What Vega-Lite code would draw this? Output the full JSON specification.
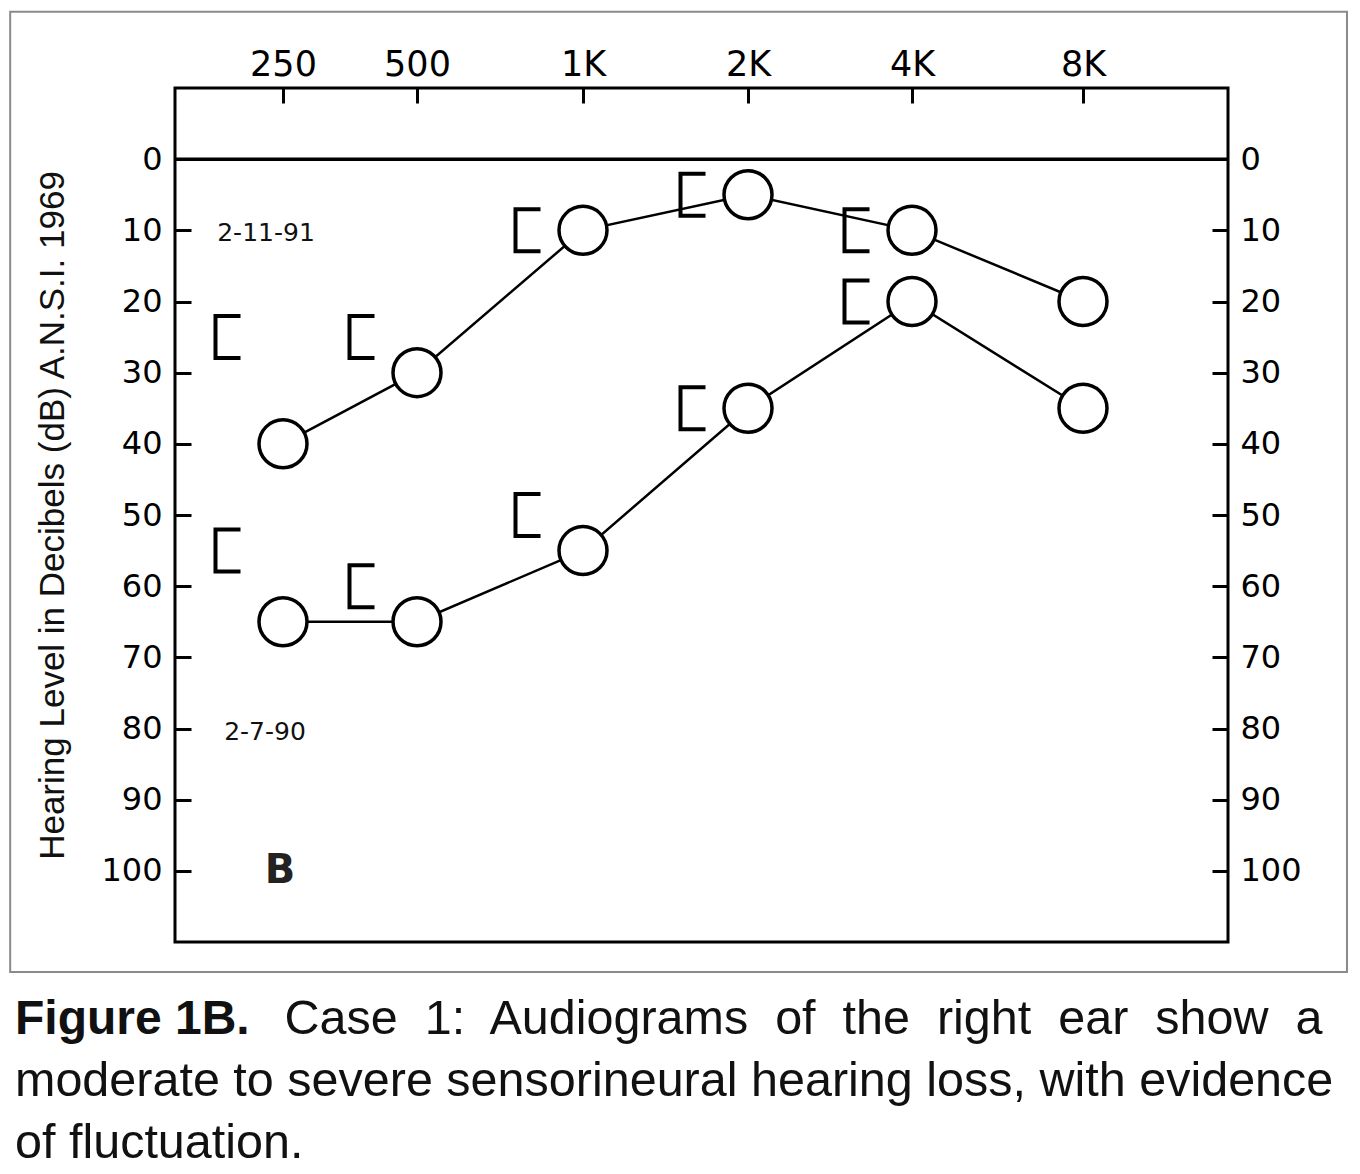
{
  "$schema": "https://vega.github.io/schema/vega-lite/v6.json",
  "autosize": "none",
  "padding": {"left": 175, "top": 88, "right": 132, "bottom": 232},
  "width": 1053,
  "height": 854,
  "background": "white",
  "title": {
    "text": "Figure 1B.",
    "subtitle": [
      "\u200b\u00a0\u00a0\u00a0\u00a0\u00a0\u00a0\u00a0\u00a0\u00a0\u00a0\u00a0\u00a0\u00a0\u00a0\u00a0\u00a0\u00a0\u00a0\u00a0\u00a0Case\u00a0 1:\u00a0 Audiograms\u00a0 of\u00a0 the\u00a0 right\u00a0 ear\u00a0 show\u00a0 a",
      "moderate to severe sensorineural hearing loss, with evidence",
      "of fluctuation."
    ],
    "orient": "bottom",
    "anchor": "start",
    "frame": "group",
    "dx": -160,
    "offset": 23,
    "font": "Liberation Sans",
    "fontSize": 48,
    "fontWeight": "bold",
    "color": "#111",
    "subtitleFont": "Liberation Sans",
    "subtitleFontSize": 48.5,
    "subtitleColor": "#111",
    "subtitleLineHeight": 62,
    "subtitlePadding": -48
  },
  "data": {
    "values": [
      {"date": "2-11-91", "freq": 250, "air": 40, "bone": 25},
      {"date": "2-11-91", "freq": 500, "air": 30, "bone": 25},
      {"date": "2-11-91", "freq": 1000, "air": 10, "bone": 10},
      {"date": "2-11-91", "freq": 2000, "air": 5, "bone": 5},
      {"date": "2-11-91", "freq": 4000, "air": 10, "bone": 10},
      {"date": "2-11-91", "freq": 8000, "air": 20, "bone": null},
      {"date": "2-7-90", "freq": 250, "air": 65, "bone": 55},
      {"date": "2-7-90", "freq": 500, "air": 65, "bone": 60},
      {"date": "2-7-90", "freq": 1000, "air": 55, "bone": 50},
      {"date": "2-7-90", "freq": 2000, "air": 35, "bone": 35},
      {"date": "2-7-90", "freq": 4000, "air": 20, "bone": 20},
      {"date": "2-7-90", "freq": 8000, "air": 35, "bone": null}
    ]
  },
  "layer": [
    {
      "encoding": {
        "x": {
          "field": "freq",
          "type": "quantitative",
          "scale": {
            "type": "linear",
            "domain": [250, 500, 1000, 2000, 4000, 8000],
            "range": [108, 242, 408, 573, 737, 908],
            "nice": false,
            "zero": false
          },
          "axis": {
            "orient": "top",
            "values": [250, 500, 1000, 2000, 4000, 8000],
            "labelExpr": "datum.value >= 1000 ? (datum.value / 1000) + 'K' : datum.value",
            "labelFlush": false,
            "title": null,
            "labelFontSize": 35,
            "tickSize": -15,
            "labelPadding": 21
          }
        },
        "y": {
          "field": "air",
          "type": "quantitative",
          "scale": {"domain": [-10, 110], "reverse": true, "nice": false, "zero": false},
          "axis": {
            "orient": "left",
            "values": [0, 10, 20, 30, 40, 50, 60, 70, 80, 90, 100],
            "title": "Hearing Level in Decibels (dB) A.N.S.I. 1969",
            "titleFont": "Liberation Sans",
            "titleFontSize": 35,
            "titleFontWeight": "normal",
            "titleColor": "#111",
            "titlePadding": 30,
            "labelPadding": 29
          }
        }
      },
      "layer": [
        {
          "transform": [{"filter": "datum.freq == 250 && datum.date == '2-11-91'"}],
          "mark": {"type": "rect", "fillOpacity": 0, "stroke": "#8a8a8a", "strokeWidth": 2, "clip": false},
          "encoding": {
            "x": {"datum": -259},
            "x2": {"datum": 14175},
            "y": {"datum": -20.7},
            "y2": {"datum": 114.2}
          }
        },
        {
          "transform": [{"filter": "datum.freq == 250 && datum.date == '2-11-91'"}],
          "mark": {"type": "rule", "color": "black", "strokeWidth": 3.5},
          "encoding": {"x": null, "y": {"datum": 0}}
        },
        {
          "mark": {"type": "line", "color": "black", "strokeWidth": 2.5},
          "encoding": {"detail": {"field": "date"}}
        },
        {
          "mark": {"type": "point", "shape": "circle", "size": 2304, "filled": true, "fill": "white", "stroke": "black", "strokeWidth": 3.5, "opacity": 1}
        },
        {
          "mark": {
            "type": "point",
            "shape": "M -1.7 -0.84 L -2.7 -0.84 L -2.7 0.84 L -1.7 0.84",
            "size": 2500,
            "filled": false,
            "stroke": "black",
            "strokeWidth": 4,
            "opacity": 1
          },
          "encoding": {"y": {"field": "bone", "type": "quantitative"}}
        },
        {
          "transform": [{"filter": "datum.freq == 250 && datum.date == '2-11-91'"}],
          "mark": {"type": "text", "text": "2-11-91", "font": "DejaVu Sans", "fontSize": 25, "dx": -17, "baseline": "middle", "color": "#111"},
          "encoding": {"x": {"datum": 250}, "y": {"datum": 10.4}}
        },
        {
          "transform": [{"filter": "datum.freq == 250 && datum.date == '2-7-90'"}],
          "mark": {"type": "text", "text": "2-7-90", "font": "DejaVu Sans", "fontSize": 25, "dx": -18, "baseline": "middle", "color": "#111"},
          "encoding": {"x": {"datum": 250}, "y": {"datum": 80.5}}
        },
        {
          "transform": [{"filter": "datum.freq == 250 && datum.date == '2-7-90'"}],
          "mark": {"type": "text", "text": "B", "font": "DejaVu Sans", "fontSize": 40, "fontWeight": "bold", "dx": -3, "baseline": "middle", "color": "#222"},
          "encoding": {"x": {"datum": 250}, "y": {"datum": 100}}
        }
      ]
    },
    {
      "mark": {"type": "point", "opacity": 0},
      "encoding": {
        "y": {
          "field": "air",
          "type": "quantitative",
          "scale": {"domain": [-10, 110], "reverse": true, "nice": false, "zero": false},
          "axis": {
            "orient": "right",
            "values": [0, 10, 20, 30, 40, 50, 60, 70, 80, 90, 100],
            "title": null,
            "labelPadding": 28
          }
        }
      }
    }
  ],
  "resolve": {"scale": {"y": "independent"}},
  "config": {
    "view": {"stroke": "black", "strokeWidth": 3},
    "axis": {
      "domain": false,
      "grid": false,
      "ticks": true,
      "tickSize": -16,
      "tickWidth": 3,
      "tickColor": "black",
      "labelFont": "DejaVu Sans",
      "labelFontSize": 32,
      "labelColor": "black"
    }
  }
}
